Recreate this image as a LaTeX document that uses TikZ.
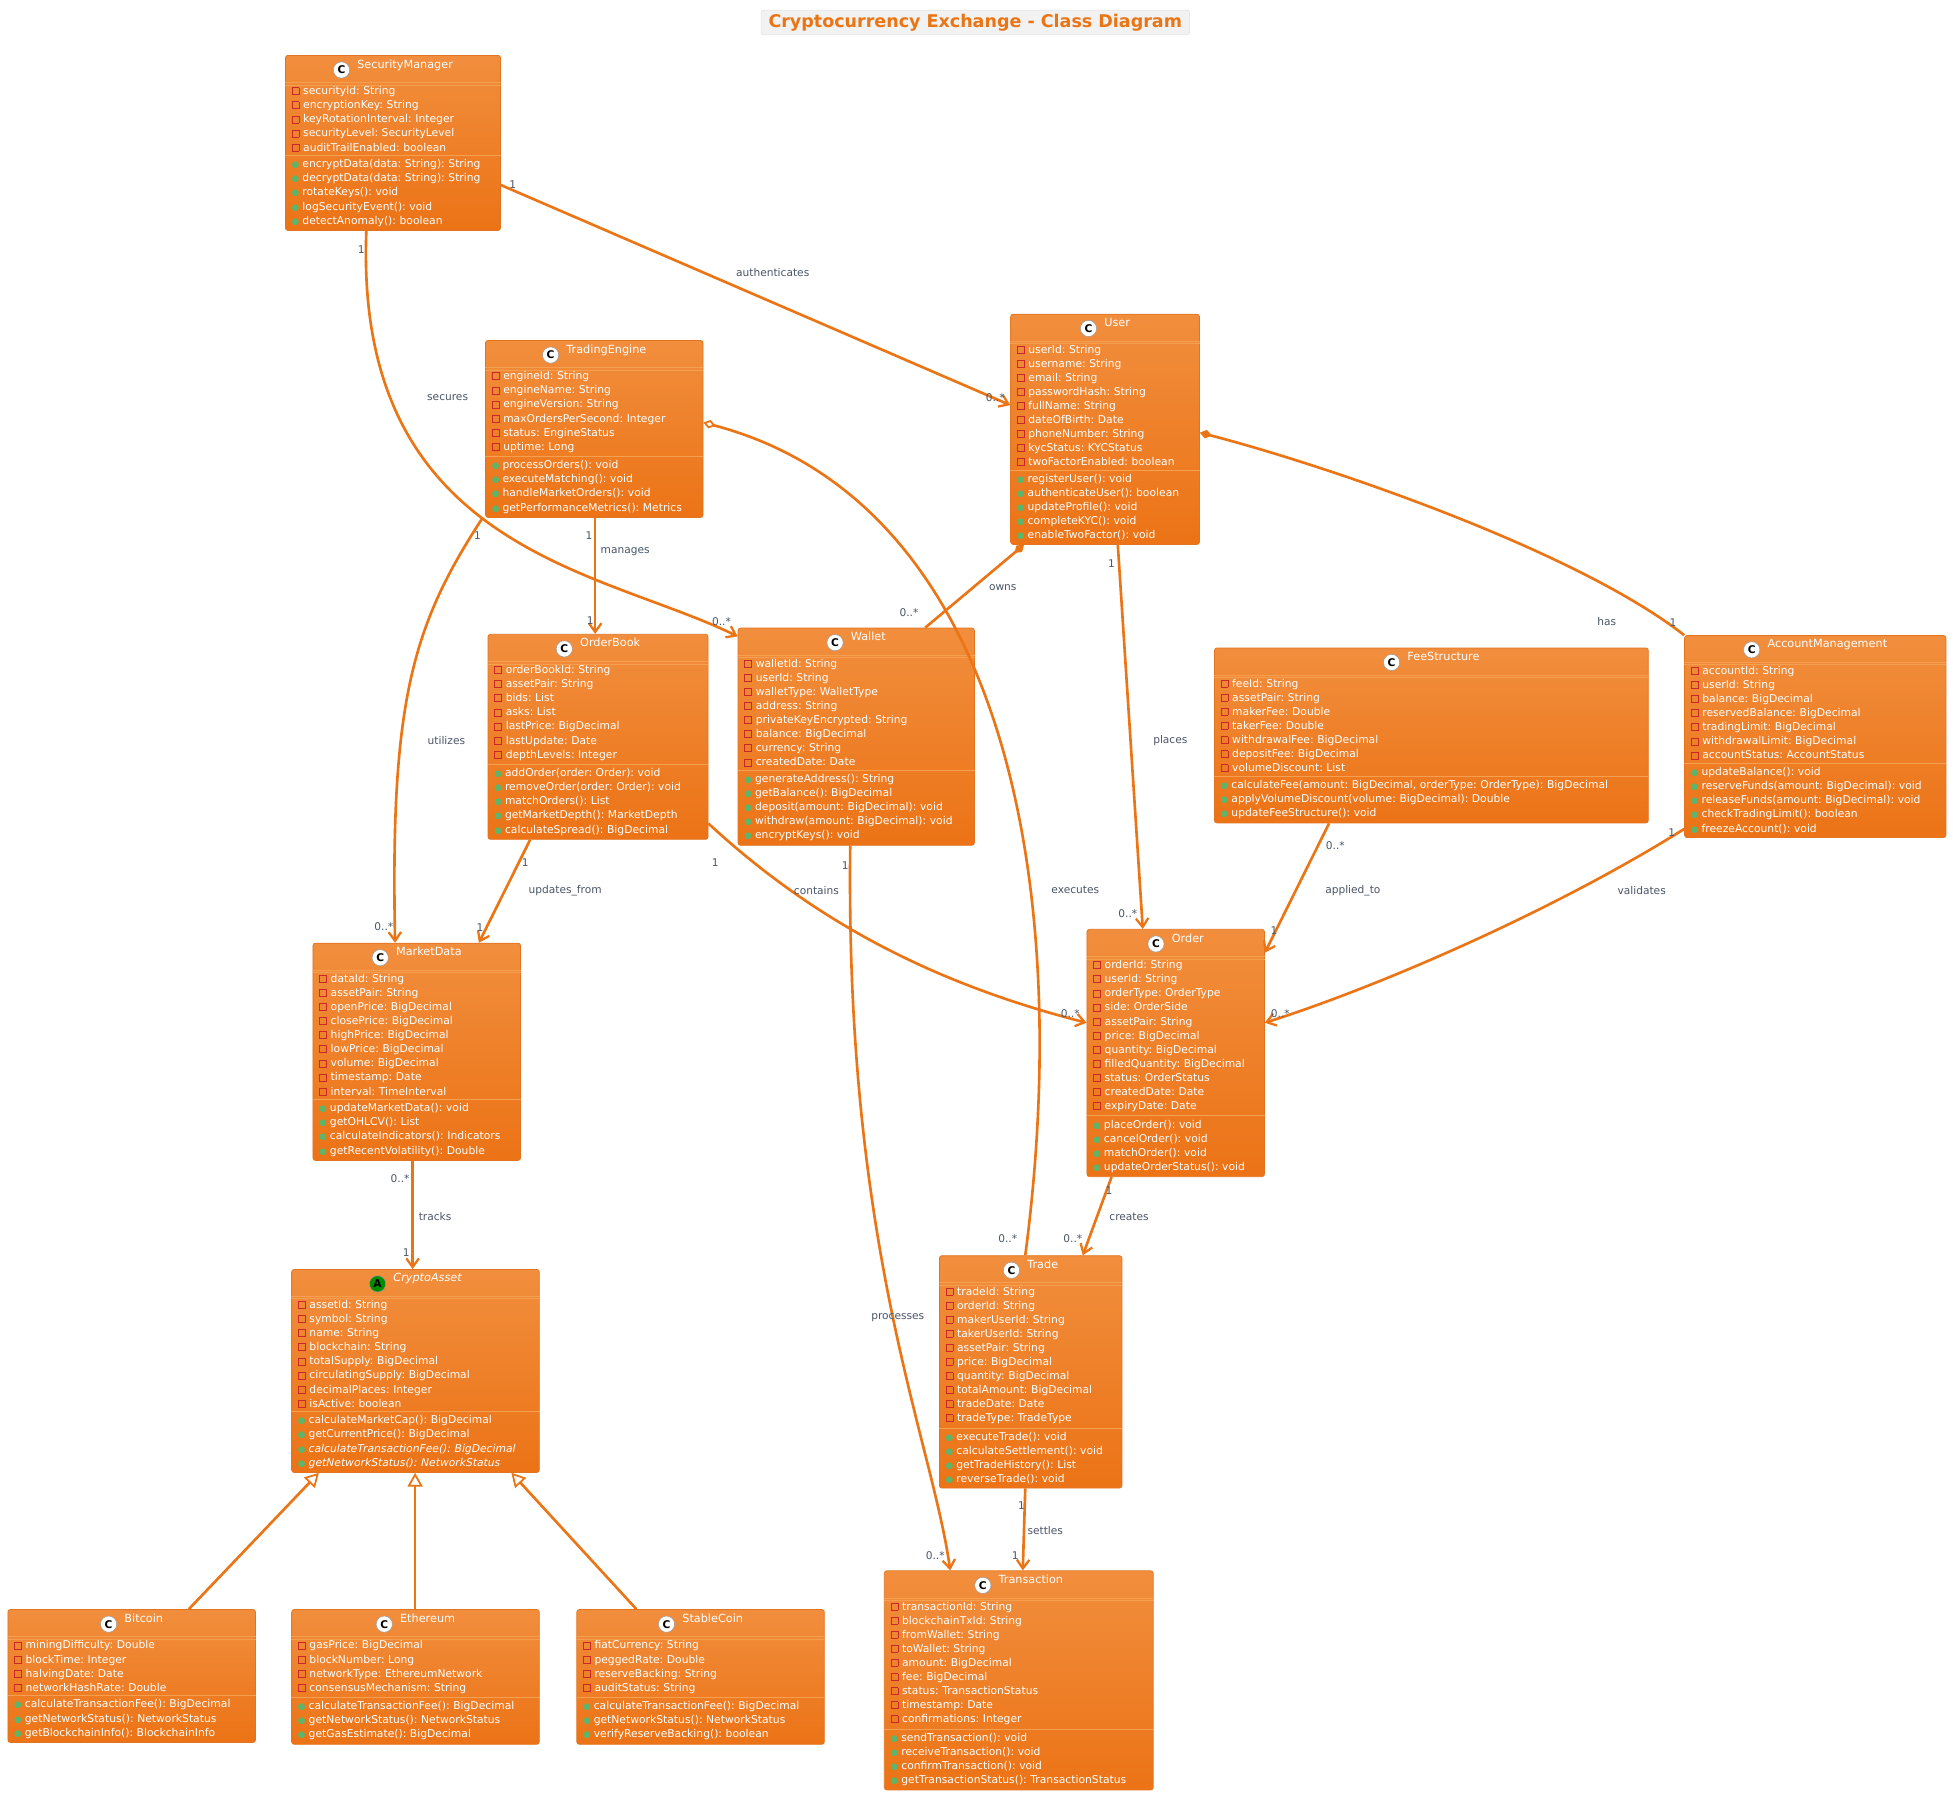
\documentclass[tikz,border=0pt]{standalone}
\usepackage{fontspec}
\setmainfont{DejaVu Sans}
\frenchspacing
\usetikzlibrary{shapes.multipart,arrows.meta,calc}
\definecolor{ofill1}{HTML}{F18E3D}
\definecolor{ofill2}{HTML}{EC7316}
\definecolor{oline}{HTML}{E27420}
\definecolor{osep}{HTML}{F5A050}
\definecolor{conn}{HTML}{EB7414}
\definecolor{lbl}{HTML}{4A5568}
\definecolor{privred}{HTML}{C82828}
\definecolor{pubgreen}{HTML}{5BB56A}
\newcommand\pv{\textcolor{privred}{\fboxsep0pt\fboxrule0.6pt\raisebox{0.3pt}{\fbox{\rule{0pt}{5pt}\hspace{5pt}}}}\hspace{3pt}}
\newcommand\pb{{\fontsize{7}{7}\selectfont\textcolor{pubgreen}{●}}\hspace{2.5pt}}
\newcommand\icon[3]{\tikz[baseline=-3.2pt]\node[circle,fill=#2,draw=black!40,line width=0.4pt,inner sep=0pt,minimum size=13pt,text=#3,font=\fontsize{8.5}{8.5}\selectfont\bfseries]{#1};}
\newcommand\hd[1]{\hfil\icon{C}{white}{black}\hspace{6pt}{\fontsize{9}{11.25}\selectfont #1}\hfil}
\tikzset{
  x=1pt,y=-1pt,
  cls/.style={rectangle split,rectangle split parts=3,draw=oline,line width=0.6pt,
    top color=ofill1,bottom color=ofill2,rounded corners=2pt,anchor=north west,
    inner xsep=5pt,inner ysep=3pt,align=left,
    font=\fontsize{8.6}{11.25}\selectfont\color{white},
    rectangle split draw splits=false},
  edge/.style={draw=conn,line width=2.1pt},
  arr/.style={-{Straight Barb[length=7pt,width=10pt,line width=1.8pt]}},
  mult/.style={font=\fontsize{8.5}{10}\selectfont,text=lbl,inner sep=1pt},
  lab/.style={font=\fontsize{8.5}{10}\selectfont,text=lbl,inner sep=1pt},
}
\newcommand\umlclass[7]{%
  \node[cls,text width=#4pt-10pt] (#1) at (#2,#3) {#5\nodepart{two}#6\nodepart{three}#7};
  \draw[osep,line width=0.6pt] (#1.one split west) -- (#1.one split east);
  \draw[osep,line width=0.6pt] ([yshift=-2pt]#1.one split west) -- ([yshift=-2pt]#1.one split east);
  \draw[osep,line width=0.6pt] (#1.two split west) -- (#1.two split east);
}
\begin{document}
\begin{tikzpicture}
\useasboundingbox (0,0) rectangle (1562,1439);
\fill[white] (0,0) rectangle (1562,1439);
\node[draw=black!12,fill=black!5,rounded corners=2pt,inner xsep=6pt,inner ysep=3pt,text=conn,font=\fontsize{14}{16}\selectfont\bfseries] (title) at (780,18) {Cryptocurrency Exchange - Class Diagram};

\umlclass{sec}{228}{44}{172}{\hd{SecurityManager}}
{\pv securityId: String\\\pv encryptionKey: String\\\pv keyRotationInterval: Integer\\\pv securityLevel: SecurityLevel\\\pv auditTrailEnabled: boolean}
{\pb encryptData(data: String): String\\\pb decryptData(data: String): String\\\pb rotateKeys(): void\\\pb logSecurityEvent(): void\\\pb detectAnomaly(): boolean}

\umlclass{te}{388}{272}{174}{\hd{TradingEngine}}
{\pv engineId: String\\\pv engineName: String\\\pv engineVersion: String\\\pv maxOrdersPerSecond: Integer\\\pv status: EngineStatus\\\pv uptime: Long}
{\pb processOrders(): void\\\pb executeMatching(): void\\\pb handleMarketOrders(): void\\\pb getPerformanceMetrics(): Metrics}

\umlclass{user}{808}{251}{151}{\hd{User}}
{\pv userId: String\\\pv username: String\\\pv email: String\\\pv passwordHash: String\\\pv fullName: String\\\pv dateOfBirth: Date\\\pv phoneNumber: String\\\pv kycStatus: KYCStatus\\\pv twoFactorEnabled: boolean}
{\pb registerUser(): void\\\pb authenticateUser(): boolean\\\pb updateProfile(): void\\\pb completeKYC(): void\\\pb enableTwoFactor(): void}

\umlclass{ob}{390}{507}{176}{\hd{OrderBook}}
{\pv orderBookId: String\\\pv assetPair: String\\\pv bids: List\\\pv asks: List\\\pv lastPrice: BigDecimal\\\pv lastUpdate: Date\\\pv depthLevels: Integer}
{\pb addOrder(order: Order): void\\\pb removeOrder(order: Order): void\\\pb matchOrders(): List\\\pb getMarketDepth(): MarketDepth\\\pb calculateSpread(): BigDecimal}

\umlclass{wallet}{590}{502}{189}{\hd{Wallet}}
{\pv walletId: String\\\pv userId: String\\\pv walletType: WalletType\\\pv address: String\\\pv privateKeyEncrypted: String\\\pv balance: BigDecimal\\\pv currency: String\\\pv createdDate: Date}
{\pb generateAddress(): String\\\pb getBalance(): BigDecimal\\\pb deposit(amount: BigDecimal): void\\\pb withdraw(amount: BigDecimal): void\\\pb encryptKeys(): void}

\umlclass{fee}{971}{518}{347}{\hd{FeeStructure}}
{\pv feeId: String\\\pv assetPair: String\\\pv makerFee: Double\\\pv takerFee: Double\\\pv withdrawalFee: BigDecimal\\\pv depositFee: BigDecimal\\\pv volumeDiscount: List}
{\pb calculateFee(amount: BigDecimal, orderType: OrderType): BigDecimal\\\pb applyVolumeDiscount(volume: BigDecimal): Double\\\pb updateFeeStructure(): void}

\umlclass{am}{1347}{508}{209}{\hd{AccountManagement}}
{\pv accountId: String\\\pv userId: String\\\pv balance: BigDecimal\\\pv reservedBalance: BigDecimal\\\pv tradingLimit: BigDecimal\\\pv withdrawalLimit: BigDecimal\\\pv accountStatus: AccountStatus}
{\pb updateBalance(): void\\\pb reserveFunds(amount: BigDecimal): void\\\pb releaseFunds(amount: BigDecimal): void\\\pb checkTradingLimit(): boolean\\\pb freezeAccount(): void}

\umlclass{md}{250}{754}{166}{\hd{MarketData}}
{\pv dataId: String\\\pv assetPair: String\\\pv openPrice: BigDecimal\\\pv closePrice: BigDecimal\\\pv highPrice: BigDecimal\\\pv lowPrice: BigDecimal\\\pv volume: BigDecimal\\\pv timestamp: Date\\\pv interval: TimeInterval}
{\pb updateMarketData(): void\\\pb getOHLCV(): List\\\pb calculateIndicators(): Indicators\\\pb getRecentVolatility(): Double}

\umlclass{order}{869}{743}{142}{\hd{Order}}
{\pv orderId: String\\\pv userId: String\\\pv orderType: OrderType\\\pv side: OrderSide\\\pv assetPair: String\\\pv price: BigDecimal\\\pv quantity: BigDecimal\\\pv filledQuantity: BigDecimal\\\pv status: OrderStatus\\\pv createdDate: Date\\\pv expiryDate: Date}
{\pb placeOrder(): void\\\pb cancelOrder(): void\\\pb matchOrder(): void\\\pb updateOrderStatus(): void}

\umlclass{trade}{751}{1004}{146}{\hd{Trade}}
{\pv tradeId: String\\\pv orderId: String\\\pv makerUserId: String\\\pv takerUserId: String\\\pv assetPair: String\\\pv price: BigDecimal\\\pv quantity: BigDecimal\\\pv totalAmount: BigDecimal\\\pv tradeDate: Date\\\pv tradeType: TradeType}
{\pb executeTrade(): void\\\pb calculateSettlement(): void\\\pb getTradeHistory(): List\\\pb reverseTrade(): void}

\umlclass{ca}{233}{1015}{198}{\hfil\icon{A}{green!55!black}{black}\hspace{6pt}{\fontsize{9}{11.25}\selectfont\itshape CryptoAsset}\hfil}
{\pv assetId: String\\\pv symbol: String\\\pv name: String\\\pv blockchain: String\\\pv totalSupply: BigDecimal\\\pv circulatingSupply: BigDecimal\\\pv decimalPlaces: Integer\\\pv isActive: boolean}
{\pb calculateMarketCap(): BigDecimal\\\pb getCurrentPrice(): BigDecimal\\\pb \textit{calculateTransactionFee(): BigDecimal}\\\pb \textit{getNetworkStatus(): NetworkStatus}}

\umlclass{trans}{707}{1256}{215}{\hd{Transaction}}
{\pv transactionId: String\\\pv blockchainTxId: String\\\pv fromWallet: String\\\pv toWallet: String\\\pv amount: BigDecimal\\\pv fee: BigDecimal\\\pv status: TransactionStatus\\\pv timestamp: Date\\\pv confirmations: Integer}
{\pb sendTransaction(): void\\\pb receiveTransaction(): void\\\pb confirmTransaction(): void\\\pb getTransactionStatus(): TransactionStatus}

\umlclass{btc}{6}{1287}{198}{\hd{Bitcoin}}
{\pv miningDifficulty: Double\\\pv blockTime: Integer\\\pv halvingDate: Date\\\pv networkHashRate: Double}
{\pb calculateTransactionFee(): BigDecimal\\\pb getNetworkStatus(): NetworkStatus\\\pb getBlockchainInfo(): BlockchainInfo}

\umlclass{eth}{233}{1287}{198}{\hd{Ethereum}}
{\pv gasPrice: BigDecimal\\\pv blockNumber: Long\\\pv networkType: EthereumNetwork\\\pv consensusMechanism: String}
{\pb calculateTransactionFee(): BigDecimal\\\pb getNetworkStatus(): NetworkStatus\\\pb getGasEstimate(): BigDecimal}

\umlclass{sc}{461}{1287}{198}{\hd{StableCoin}}
{\pv fiatCurrency: String\\\pv peggedRate: Double\\\pv reserveBacking: String\\\pv auditStatus: String}
{\pb calculateTransactionFee(): BigDecimal\\\pb getNetworkStatus(): NetworkStatus\\\pb verifyReserveBacking(): boolean}

% connectors
\draw[edge,arr] ([yshift=-104]sec.north east) -- ([yshift=-73]user.north west);
\node[lab] at (618,218) {authenticates};
\node[mult] at (410,148) {1};
\node[mult] at (796,318) {0..*};

\draw[edge,arr] ([xshift=65]sec.south west) .. controls (283,440) and (480,455) .. ([yshift=-7]wallet.north west);
\node[lab] at (358,318) {secures};
\node[mult] at (289,200) {1};
\node[mult] at (577,497) {0..*};

\draw[edge,arr] ([xshift=-2]te.south west) .. controls (330,500) and (312,560) .. ([xshift=66]md.north west);
\node[lab] at (357,592) {utilizes};
\node[mult] at (382,428) {1};
\node[mult] at (307,741) {0..*};

\draw[edge,arr] ([xshift=88]te.south west) -- ([xshift=86]ob.north west);
\node[lab] at (500,441) {manages};
\node[mult] at (471,428) {1};
\node[mult] at (472,496) {1};

\draw[edge,{Diamond[open,fill=white,length=10pt,width=7pt,line width=1.4pt]}-] ([yshift=-66]te.north east) .. controls (800,400) and (860,700) .. ([xshift=69]trade.north west);
\node[lab] at (860,712) {executes};
\node[mult] at (806,991) {0..*};

\draw[edge,arr] ([xshift=86]user.south west) -- ([xshift=45]order.north west);
\node[lab] at (936,592) {places};
\node[mult] at (889,451) {1};
\node[mult] at (902,731) {0..*};

\draw[edge,{Diamond[length=10pt,width=7pt]}-] ([xshift=11]user.south west) -- ([xshift=150]wallet.north west);
\node[lab] at (802,470) {owns};
\node[mult] at (727,490) {0..*};

\draw[edge,{Diamond[length=10pt,width=7pt]}-] ([yshift=-95]user.north east) .. controls (1060,372) and (1260,440) .. (am.north west);
\node[lab] at (1285,497) {has};
\node[mult] at (1338,498) {1};

\draw[edge,arr] ([xshift=34]ob.south west) -- ([xshift=133]md.north west);
\node[lab] at (452,712) {updates\_from};
\node[mult] at (420,690) {1};
\node[mult] at (384,742) {1};

\draw[edge,arr] ([yshift=13]ob.south east) .. controls (660,745) and (760,790) .. ([yshift=-75]order.north west);
\node[lab] at (653,712) {contains};
\node[mult] at (572,690) {1};
\node[mult] at (856,811) {0..*};

\draw[edge,arr] ([xshift=90]wallet.south west) .. controls (676,1000) and (745,1150) .. ([xshift=53]trans.north west);
\node[lab] at (718,1054) {processes};
\node[mult] at (676,692) {1};
\node[mult] at (748,1244) {0..*};

\draw[edge,arr] ([xshift=92]fee.south west) -- ([yshift=-19]order.north east);
\node[lab] at (1082,712) {applied\_to};
\node[mult] at (1068,676) {0..*};
\node[mult] at (1019,744) {1};

\draw[edge,arr] ([yshift=-155]am.north west) .. controls (1240,730) and (1100,790) .. ([yshift=-75]order.north east);
\node[lab] at (1313,712) {validates};
\node[mult] at (1337,666) {1};
\node[mult] at (1024,811) {0..*};

\draw[edge,arr] ([xshift=20]order.south west) -- ([xshift=115]trade.north west);
\node[lab] at (903,973) {creates};
\node[mult] at (887,952) {1};
\node[mult] at (858,991) {0..*};

\draw[edge,arr] ([xshift=80]md.south west) -- ([xshift=97]ca.north west);
\node[lab] at (348,973) {tracks};
\node[mult] at (320,943) {0..*};
\node[mult] at (325,1002) {1};

\draw[edge,arr] ([xshift=69]trade.south west) -- ([xshift=111]trans.north west);
\node[lab] at (836,1224) {settles};
\node[mult] at (817,1204) {1};
\node[mult] at (812,1244) {1};

\tikzset{inh/.style={edge,-{Triangle[open,fill=white,length=11pt,width=12pt,line width=1.4pt]}}}
\draw[inh] ([xshift=145]btc.north west) -- ([xshift=22]ca.south west);
\draw[inh] ([xshift=99]eth.north west) -- ([xshift=99]ca.south west);
\draw[inh] ([xshift=48]sc.north west) -- ([xshift=176]ca.south west);
\end{tikzpicture}
\end{document}
